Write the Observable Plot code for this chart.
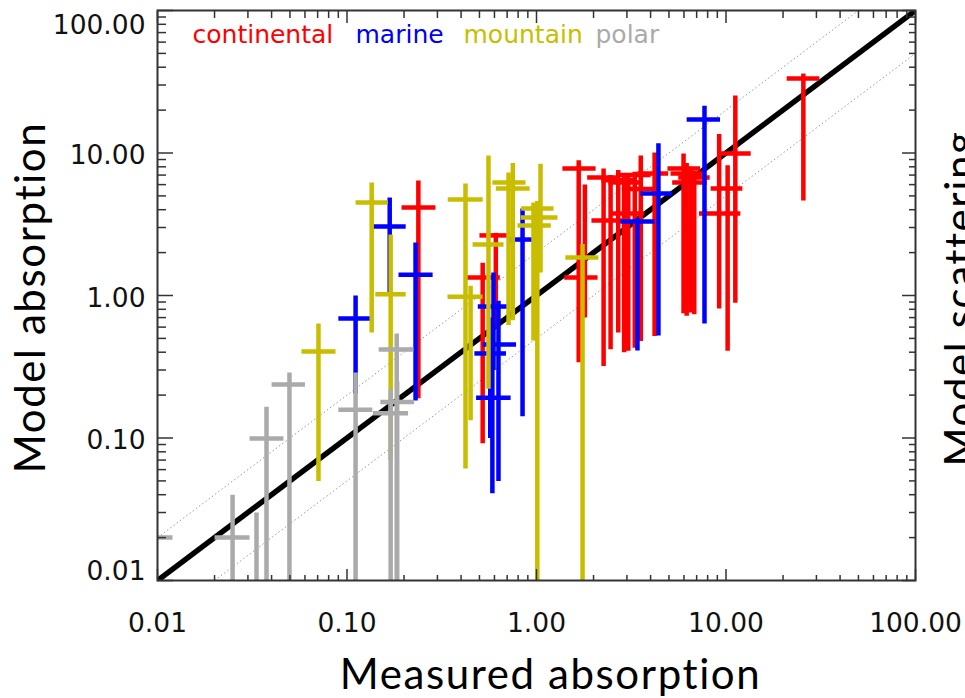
<!DOCTYPE html>
<html><head><meta charset="utf-8">
<script src="https://cdn.jsdelivr.net/npm/d3@7"></script>
<script src="https://cdn.jsdelivr.net/npm/@observablehq/plot@0.6"></script>
<style>
html,body{margin:0;padding:0;background:#fff;overflow:hidden;}
#chart{width:965px;height:698px;}
</style></head><body><div id="chart"></div>
<script>
// categories and colours
const groups = ["continental", "marine", "mountain", "polar"];
const groupColors = ["#ff0000", "#0000ff", "#c9bd00", "#aaaaaa"];

// continental
const contX    = [0.238, 0.52, 0.61, 1.67, 1.80, 2.26, 2.9, 2.46, 3.05, 4.2, 3.55, 2.7, 3.3, 5.97, 6.2, 6.5, 6.8, 9.2, 10.2, 11.2, 25.6];
const contY    = [4.15, 1.34, 2.64, 7.78, 1.34, 6.73, 6.21, 3.36, 3.76, 7.18, 5.6, 6.45, 7.0, 7.78, 7.18, 6.21, 6.73, 3.76, 5.64, 9.9, 33.3];
const contXLo  = [0.194, 0.42, 0.50, 1.37, 1.40, 1.85, 2.4, 1.95, 2.5, 3.4, 2.9, 2.2, 2.7, 4.91, 5.1, 5.2, 5.6, 7.2, 8.3, 9.1, 20.9];
const contXHi  = [0.293, 0.64, 0.712, 2.05, 2.1, 2.75, 3.5, 2.95, 3.7, 4.95, 4.3, 3.3, 4.0, 7.3, 7.6, 7.9, 8.2, 11.9, 12.2, 13.5, 31.1];
const contYLo  = [0.19, 0.092, 0.6, 0.34, 0.70, 0.32, 0.40, 0.42, 0.41, 0.52, 0.48, 0.55, 0.43, 0.75, 0.72, 0.76, 0.74, 0.81, 0.41, 0.89, 4.64];
const contYHi  = [6.41, 1.70, 2.75, 8.9, 6.0, 7.8, 7.2, 7.0, 6.9, 10.1, 9.6, 7.6, 7.4, 9.9, 8.5, 8.0, 7.5, 13.6, 8.2, 25.3, 36.1];

// marine
const marX   = [0.168, 0.111, 0.230, 0.844, 0.593, 0.63, 0.57, 0.585, 3.41, 4.40, 7.7];
const marY   = [3.05, 0.69, 1.40, 2.47, 0.837, 0.453, 0.392, 0.192, 3.3, 5.20, 17.2];
const marXLo = [0.136, 0.090, 0.187, 0.70, 0.49, 0.52, 0.47, 0.48, 2.77, 3.54, 6.2];
const marXHi = [0.204, 0.136, 0.283, 1.02, 0.712, 0.78, 0.69, 0.73, 4.2, 5.2, 9.3];
const marYLo = [1.0, 0.205, 0.183, 0.142, 0.30, 0.050, 0.10, 0.041, 0.411, 0.524, 0.637];
const marYHi = [4.87, 1.0, 2.35, 4.08, 1.45, 0.92, 0.70, 0.40, 3.5, 11.7, 21.5];

// mountain
const mtnX   = [0.0707, 0.135, 0.170, 0.422, 0.449, 0.558, 0.712, 0.75, 0.964, 1.01, 1.05, 1.75];
const mtnY   = [0.405, 4.49, 1.02, 4.72, 0.98, 2.28, 6.21, 5.64, 3.10, 4.08, 3.53, 1.85];
const mtnXLo = [0.0575, 0.111, 0.141, 0.34, 0.339, 0.46, 0.585, 0.61, 0.794, 0.83, 0.824, 1.42];
const mtnXHi = [0.087, 0.164, 0.204, 0.52, 0.519, 0.67, 0.875, 0.92, 1.19, 1.23, 1.29, 2.12];
const mtnYLo = [0.050, 0.55, 0.070, 0.061, 0.133, 0.222, 0.62, 0.67, 0.483, 0.0005, 1.45, 0.0005];
const mtnYHi = [0.637, 6.21, 2.68, 6.11, 1.17, 9.6, 7.3, 8.5, 4.49, 4.6, 8.4, 2.3];

// polar
const polX   = [0.0097, 0.0249, 0.0333, 0.0376, 0.0497, 0.111, 0.183, 0.184, 0.170];
const polY   = [0.020, 0.020, 0.005, 0.099, 0.237, 0.158, 0.418, 0.179, 0.149];
const polXLo = [0.0079, 0.0200, 0.027, 0.0306, 0.040, 0.090, 0.147, 0.150, 0.137];
const polXHi = [0.0120, 0.0306, 0.041, 0.0462, 0.060, 0.136, 0.224, 0.226, 0.210];
const polYLo = [0.002, 0.001, 0.001, 0.001, 0.001, 0.001, 0.001, 0.001, 0.001];
const polYHi = [0.035, 0.040, 0.030, 0.166, 0.288, 0.288, 0.541, 0.25, 0.22];

// axes and reference lines
const majorTicks = [0.01, 0.1, 1, 10, 100];
const minorTicks = [0.02,0.03,0.04,0.05,0.06,0.07,0.08,0.09, 0.2,0.3,0.4,0.5,0.6,0.7,0.8,0.9, 2,3,4,5,6,7,8,9, 20,30,40,50,60,70,80,90];
const oneToOne = [{x1: 0.01, y1: 0.01, x2: 100, y2: 100}];
const factorTwoLines = [{x1: 0.01, y1: 0.02, x2: 50, y2: 100}, {x1: 0.02, y1: 0.01, x2: 100, y2: 50}];
const xTitle = "Measured absorption";
const yTitle = "Model absorption";
const sideTitle = "Model scattering";
const legendOffsets = [35, 198, 306, 438];

// segments (vertical + horizontal bar per point), drawn group by group
const series = [
  [contX, contY, contXLo, contXHi, contYLo, contYHi],
  [marX, marY, marXLo, marXHi, marYLo, marYHi],
  [mtnX, mtnY, mtnXLo, mtnXHi, mtnYLo, mtnYHi],
  [polX, polY, polXLo, polXHi, polYLo, polYHi]
];
const segments = [];
series.forEach(([X, Y, XL, XH, YL, YH], gi) => {
  X.forEach((x, i) => {
    segments.push({group: groups[gi], x1: x, x2: x, y1: YL[i], y2: YH[i]});
    segments.push({group: groups[gi], x1: XL[i], x2: XH[i], y1: Y[i], y2: Y[i]});
  });
});

const fmt = d3.format(".2f");
const tickStroke = "#333";
const labelFont = {fontSize: 26.5, fontFamily: "DejaVu Sans", fill: "#111"};
const titleFont = {fontSize: 42, fontFamily: "Lato", fill: "black"};

const chart = Plot.plot({
  width: 965, height: 698,
  marginLeft: 157, marginRight: 50, marginTop: 10, marginBottom: 118,
  x: {type: "log", domain: [0.01, 100]},
  y: {type: "log", domain: [0.01, 100]},
  color: {domain: groups, range: groupColors},
  style: {fontFamily: "DejaVu Sans", background: "white", overflow: "visible"},
  marks: [
    Plot.link(factorTwoLines, {x1: "x1", y1: "y1", x2: "x2", y2: "y2", stroke: "#9a9a9a", strokeWidth: 1, strokeDasharray: "1.5,2.5", clip: true}),
    Plot.link(oneToOne, {x1: "x1", y1: "y1", x2: "x2", y2: "y2", stroke: "black", strokeWidth: 5.5, clip: true}),
    Plot.link(segments, {x1: "x1", x2: "x2", y1: "y1", y2: "y2", stroke: "group", strokeWidth: 4.5, clip: true}),
    Plot.frame({stroke: tickStroke, strokeWidth: 2}),
    // inward ticks on all four sides
    Plot.axisY({anchor: "left", ticks: majorTicks, tickSize: -16, text: null, label: null, stroke: tickStroke, strokeWidth: 1.5}),
    Plot.axisY({anchor: "left", ticks: minorTicks, tickSize: -9, text: null, label: null, stroke: tickStroke, strokeWidth: 1.5}),
    Plot.axisY({anchor: "right", ticks: majorTicks, tickSize: -14, text: null, label: null, stroke: tickStroke, strokeWidth: 1.5}),
    Plot.axisY({anchor: "right", ticks: minorTicks, tickSize: -7, text: null, label: null, stroke: tickStroke, strokeWidth: 1.5}),
    Plot.axisX({anchor: "bottom", ticks: majorTicks, tickSize: -11, text: null, label: null, stroke: tickStroke, strokeWidth: 1.5}),
    Plot.axisX({anchor: "bottom", ticks: minorTicks, tickSize: -5, text: null, label: null, stroke: tickStroke, strokeWidth: 1.5}),
    Plot.axisX({anchor: "top", ticks: majorTicks, tickSize: -12, text: null, label: null, stroke: tickStroke, strokeWidth: 1.5}),
    Plot.axisX({anchor: "top", ticks: minorTicks, tickSize: -7, text: null, label: null, stroke: tickStroke, strokeWidth: 1.5}),
    // tick labels
    Plot.axisY({anchor: "left", ticks: [0.1, 1, 10], tickSize: 0, tickPadding: 12, tickFormat: fmt, label: null, dy: 3, ...labelFont}),
    Plot.axisY({anchor: "left", ticks: [100], tickSize: 0, tickPadding: 12, tickFormat: fmt, label: null, dy: 15, ...labelFont}),
    Plot.axisY({anchor: "left", ticks: [0.01], tickSize: 0, tickPadding: 12, tickFormat: fmt, label: null, dy: -9, ...labelFont}),
    Plot.axisX({anchor: "bottom", ticks: majorTicks, tickSize: 0, tickPadding: 33, tickFormat: fmt, label: null, ...labelFont}),
    // legend
    ...groups.map((g, i) => Plot.text([g], {text: d => d, frameAnchor: "top-left", textAnchor: "start", lineAnchor: "bottom",
      dx: legendOffsets[i], dy: 32, fill: groupColors[i], fontSize: 25, fontFamily: "DejaVu Sans"})),
    // titles
    Plot.text([xTitle], {text: d => d, frameAnchor: "bottom", textAnchor: "middle", lineAnchor: "bottom", dx: 14, dy: 108, ...titleFont}),
    Plot.text([yTitle], {text: d => d, frameAnchor: "left", textAnchor: "middle", lineAnchor: "middle", rotate: -90, dx: -126, dy: 2, ...titleFont}),
    Plot.text([sideTitle], {text: d => d, frameAnchor: "right", textAnchor: "middle", lineAnchor: "middle", rotate: -90, dx: 46, dy: 3, ...titleFont})
  ]
});
d3.select(chart).selectAll("text")
  .filter(function () { return [xTitle, yTitle, sideTitle].includes(this.textContent); })
  .attr("letter-spacing", "1.6px");
document.getElementById("chart").appendChild(chart);
</script></body></html>
